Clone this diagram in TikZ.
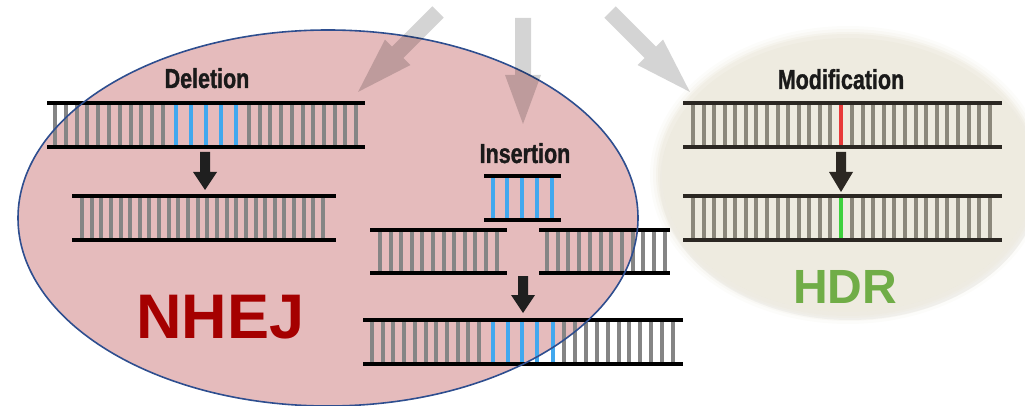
\documentclass[tikz,border=0pt]{standalone}
\usepackage{fontspec}
\setmainfont{Liberation Sans}
\newfontfamily\labelfont[FakeStretch=0.78,FakeBold=1.2]{Liberation Sans}
\definecolor{nhejfill}{HTML}{E5BBBC}
\definecolor{nhejedge}{HTML}{2E4E8F}
\definecolor{hdrfill}{HTML}{EEEBE0}
\definecolor{rungc}{HTML}{858585}
\definecolor{rungb}{HTML}{8C887C}
\definecolor{strandb}{HTML}{2B2722}
\definecolor{dnablue}{HTML}{41A8EE}
\definecolor{modred}{HTML}{E83A3A}
\definecolor{modgreen}{HTML}{3ED13E}
\definecolor{nhejtext}{HTML}{A50000}
\definecolor{hdrtext}{HTML}{70AD47}
\definecolor{labeltext}{HTML}{1A1A1A}

% two backbone strands of a double helix segment
\newcommand\strands[5]{%
  \draw[strand,#5] (#1,#3) -- (#2,#3);
  \draw[strand,#5] (#1,#4) -- (#2,#4);}
% a short black block arrow pointing down: x, top, head base, tip, colour
\newcommand\dnarrow[5]{%
  \fill[#5] (#1-5,#2) -- (#1+5,#2) -- (#1+5,#3) -- (#1+12,#3) -- (#1,#4)
    -- (#1-12,#3) -- (#1-5,#3) -- cycle;}
% a wide translucent grey arrow: tail x, tail y, angle, length
\newcommand\grarrow[4]{%
  \begin{scope}[shift={(#1,#2)}, rotate=#3]
    \fill[garrow] (0,-8) -- (57,-8) -- (57,-18) -- (#4,0) -- (57,18)
      -- (57,8) -- (0,8) -- cycle;
  \end{scope}}

\begin{document}
\begin{tikzpicture}[x=1pt,y=-1pt,
  strand/.style={line width=4.2pt, draw=black},
  rung/.style={line width=4pt, draw=rungc},
  brung/.style={line width=4pt, draw=rungb},
  bluerung/.style={line width=4pt, draw=dnablue},
  garrow/.style={fill=black, fill opacity=0.17},
  steplabel/.style={font=\labelfont\bfseries\fontsize{27.5}{30}\selectfont,
    text=labeltext, anchor=base, inner sep=0pt},
  pathlabel/.style={font=\bfseries, anchor=base, inner sep=0pt}]
\useasboundingbox (0,0) rectangle (1025,406);

% NHEJ region
\fill[nhejfill] (328,218) ellipse (310 and 188);

% HDR region with a soft rim
\fill[black, opacity=0.05] (850,181) ellipse (190 and 139);
\foreach \d/\o in {10/0.15,7/0.25,4/0.4,2/0.6}
  \fill[hdrfill, opacity=\o] (848,175) ellipse ({188+\d} and {139+\d});
\fill[hdrfill] (848,175) ellipse (186 and 137);

% Deletion: original segment
\foreach \k in {0,...,10} \draw[rung] ({55+10.8*\k},103) -- (55+10.8*\k,147);
\foreach \rx in {176,191,206,221,236} \draw[bluerung] (\rx,103) -- (\rx,147);
\foreach \k in {0,...,10} \draw[rung] ({249+10.7*\k},103) -- (249+10.7*\k,147);
\strands{47}{365}{103}{147}{}
\dnarrow{205}{152}{172}{190}{black!88}
% Deletion: result
\foreach \k in {0,...,25} \draw[rung] ({82+9.64*\k},196) -- (82+9.64*\k,240);
\strands{72}{336}{196}{240}{}

% Insertion: inserted piece
\foreach \rx in {493,507,522,537,552} \draw[bluerung] (\rx,176) -- (\rx,220);
\strands{484}{561}{176}{220}{}
% Insertion: broken segment
\foreach \k in {0,...,11} \draw[rung] ({380+10.6*\k},230) -- (380+10.6*\k,273);
\strands{370}{507}{230}{273}{}
\foreach \k in {0,...,11} \draw[rung] ({547+10.7*\k},230) -- (547+10.7*\k,273);
\strands{539}{670}{230}{273}{}
\dnarrow{523}{276}{295}{313}{black!88}
% Insertion: result
\foreach \k in {0,...,10} \draw[rung] ({372+10.7*\k},320) -- (372+10.7*\k,364);
\foreach \rx in {493,508,522,537,553} \draw[bluerung] (\rx,320) -- (\rx,364);
\foreach \k in {0,...,10} \draw[rung] ({564+10.9*\k},320) -- (564+10.9*\k,364);
\strands{363}{683}{320}{364}{}

% NHEJ outline
\draw[nhejedge, line width=1.6pt] (328,218) ellipse (310 and 188);

% Modification: original segment
\foreach \k in {0,...,13} \draw[brung] ({693+10.57*\k},103) -- (693+10.57*\k,147);
\draw[line width=4pt, modred] (841,103) -- (841,147);
\foreach \k in {0,...,13} \draw[brung] ({852+10.6*\k},103) -- (852+10.6*\k,147);
\strands{683}{1002}{103}{147}{draw=strandb}
\dnarrow{841}{152}{172}{192}{strandb}
% Modification: result
\foreach \k in {0,...,13} \draw[brung] ({693+10.57*\k},196) -- (693+10.57*\k,240);
\draw[line width=4pt, modgreen] (841,196) -- (841,240);
\foreach \k in {0,...,13} \draw[brung] ({852+10.6*\k},196) -- (852+10.6*\k,240);
\strands{683}{1002}{196}{240}{draw=strandb}

% labels
\node[steplabel] (deletion) at (207,88) {Deletion};
\node[steplabel] (insertion) at (525,163) {Insertion};
\node[steplabel] (modification) at (841,89) {Modification};
\node[pathlabel, text=nhejtext, font=\bfseries\fontsize{63}{70}\selectfont]
  (nhej) at (220.5,338) {NHEJ};
\node[pathlabel, text=hdrtext, font=\bfseries\fontsize{48}{54}\selectfont]
  (hdr) at (845,303) {HDR};

% incoming repair arrows
\grarrow{438}{12}{225}{113}
\grarrow{523}{18}{270}{106}
\grarrow{610}{12}{315}{113}
\end{tikzpicture}
\end{document}
